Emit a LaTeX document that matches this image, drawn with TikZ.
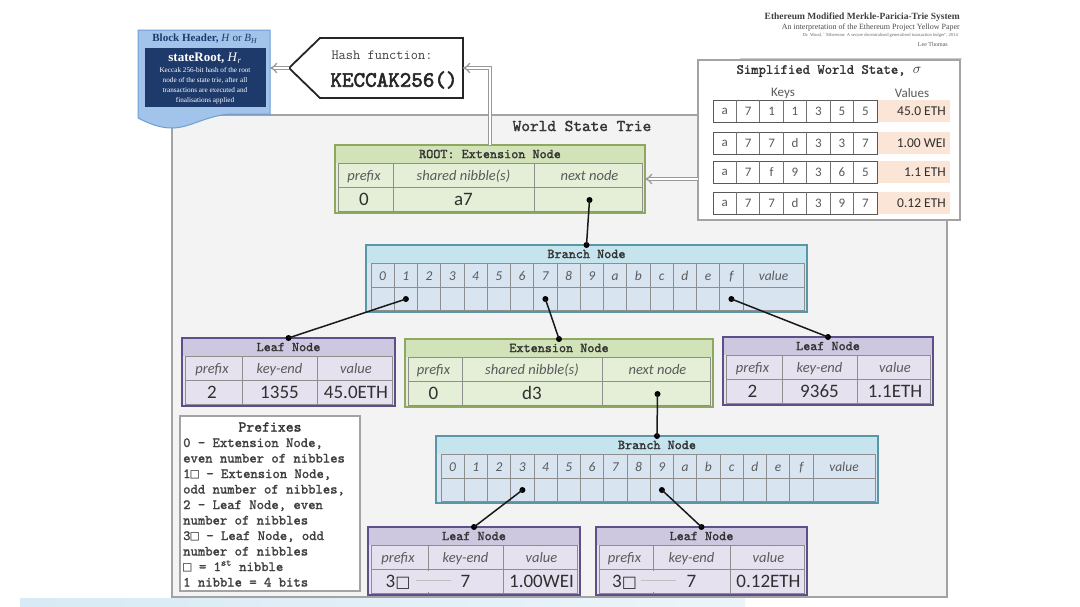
\documentclass[tikz,border=0pt]{standalone}
\usepackage{fontspec}
\setsansfont{Carlito}
\newfontfamily\tms{Liberation Serif}
\newfontfamily\djv{DejaVu Sans}
\newfontfamily\djvm{DejaVu Sans Mono}
\newfontfamily\tmb{lmmono10-regular.otf}[FakeBold=1.6]
\newfontfamily\tmbb{lmmono10-regular.otf}[FakeBold=2.6]
\usetikzlibrary{arrows.meta}
\definecolor{gbody}{HTML}{E5EFD7}
\definecolor{gtitle}{HTML}{D2E3B9}
\definecolor{gborder}{HTML}{8FA860}
\definecolor{pbody}{HTML}{E5E1EF}
\definecolor{ptitle}{HTML}{CEC7E0}
\definecolor{pborder}{HTML}{5E4F88}
\definecolor{bbody}{HTML}{D9E4F1}
\definecolor{btitle}{HTML}{C5E4EE}
\definecolor{bborder}{HTML}{5B96A7}
\definecolor{gridc}{HTML}{8E8E8E}
\definecolor{framefill}{HTML}{F3F3F3}
\definecolor{framec}{HTML}{A3A3A3}
\definecolor{bhfill}{HTML}{A2C3EA}
\definecolor{bhborder}{HTML}{6E9ED6}
\definecolor{navy}{HTML}{1D3A6B}
\definecolor{peach}{HTML}{FBE5D6}
\definecolor{txtgray}{HTML}{5A5A5A}
\definecolor{txtdark}{HTML}{303030}
\definecolor{band}{HTML}{D8EAF5}
\newcommand\wsq{{\djv\fontsize{16}{16}\selectfont □}}
\newcommand\wsqm{{\djvm □}}
% table node: name, x1, top, x2, c1, c2, kind, title
\newcommand\TNode[8]{%
  \node[#7body, anchor=north west, inner sep=0pt, outer sep=0pt, minimum width={(#4-#2)*1pt}, minimum height=68pt] (#1) at (#2,#3) {};
  \fill[#7title] (#2,#3) rectangle (#4,#3+18);
  \draw[grid] (#2+3,#3+18) rectangle (#4-3,#3+66);
  \draw[grid] (#2+3,#3+42) -- (#4-3,#3+42);
  \draw[grid] (#5,#3+18) -- (#5,#3+66);
  \draw[grid] (#6,#3+18) -- (#6,#3+66);
  \draw[#7edge] (#1.north west) rectangle (#1.south east);
  \node[ttl] (#1-t) at ({(#2+#4)/2},#3+9) {#8};
  \pgfmathsetmacro{\xa}{(#2+#5)/2}%
  \pgfmathsetmacro{\xb}{(#5+#6)/2}%
  \pgfmathsetmacro{\xc}{(#6+#4)/2}%
  \pgfmathsetmacro{\ty}{#3}%
}
\newcommand\TTxt[7]{%
  \node[lbl] (#1-la) at (\xa,\ty+35) {#2};
  \node[lbl] (#1-lb) at (\xb,\ty+35) {#3};
  \node[lbl] (#1-lc) at (\xc,\ty+35) {#4};
  \node[val] (#1-va) at (\xa,\ty+60.5) {#5};
  \node[val] (#1-vb) at (\xb,\ty+60.5) {#6};
  \node[val] (#1-vc) at (\xc,\ty+60.5) {#7};
}
% branch node: name, x1, top, x2
\newcommand\BNode[4]{%
  \node[fill=bbody, anchor=north west, inner sep=0pt, outer sep=0pt, minimum width={(#4-#2)*1pt}, minimum height=67pt] (#1) at (#2,#3) {};
  \fill[btitle] (#2,#3) rectangle (#4,#3+18);
  \draw[grid] (#2+5,#3+18) rectangle (#4-3,#3+65);
  \draw[grid] (#2+5,#3+42) -- (#4-3,#3+42);
  \foreach \i/\l in {0/0,1/1,2/2,3/3,4/4,5/5,6/6,7/7,8/8,9/9,10/a,11/b,12/c,13/d,14/e,15/f} {
    \draw[grid] ({#2+5+(\i+1)*23.25},#3+18) -- ++(0,47);
    \node[blbl] (#1-l\i) at ({#2+5+(\i+0.5)*23.25},#3+35) {\l};
  }
  \node[blbl] (#1-lv) at ({(#2+5+16*23.25+#4-3)/2},#3+35) {value};
  \draw[draw=bborder, line width=2pt] (#1.north west) rectangle (#1.south east);
  \node[ttl] (#1-t) at ({(#2+#4)/2},#3+9) {Branch Node};
}
\begin{document}
\begin{tikzpicture}[x=1pt,y=-1pt,
  grid/.style={draw=gridc, line width=0.8pt},
  ttl/.style={font=\tmb\fontsize{13.5}{13.5}\selectfont, text=black!80, inner sep=0pt},
  lbl/.style={font=\sffamily\itshape\fontsize{14.5}{14.5}\selectfont, text=txtgray, inner sep=0pt, anchor=base},
  val/.style={font=\sffamily\fontsize{19}{19}\selectfont, text=txtdark, inner sep=0pt, anchor=base},
  blbl/.style={font=\sffamily\itshape\fontsize{13.5}{13.5}\selectfont, text=txtgray, inner sep=0pt, anchor=base},
  gnbody/.style={fill=gbody}, gntitle/.style={fill=gtitle}, gnedge/.style={draw=gborder, line width=2pt},
  pubody/.style={fill=pbody}, putitle/.style={fill=ptitle}, puedge/.style={draw=pborder, line width=2pt},
  dot/.style={circle, fill=black, inner sep=0pt, minimum size=6pt},
  conn/.style={line width=1.5pt, draw=black!90},
  dbl/.style={draw=black!40, double=white, double distance=2.2pt, line width=1.3pt, -{Implies}},
  ptxt/.style={font=\tmb\fontsize{14}{14}\selectfont, text=black!75, inner sep=0pt, anchor=base west},
  keytxt/.style={font=\sffamily\fontsize{13}{13}\selectfont, text=txtgray, inner sep=0pt},
  wsval/.style={font=\sffamily\fontsize{13.5}{13.5}\selectfont, text=txtdark, inner sep=0pt},
  boxw/.style={draw=framec, fill=white, line width=1.5pt, anchor=north west, inner sep=0pt, outer sep=0pt}
]
\useasboundingbox (0,0) rectangle (1080,606);
\fill[white] (0,0) rectangle (1080,606);
\shade[left color=band, right color=band!50] (20,598) rectangle (745,606);

% heading top right
\node[anchor=base east, font=\tms\bfseries\fontsize{9.5}{9.5}\selectfont, text=black!75, inner sep=0pt] (t1) at (960,19) {Ethereum Modified Merkle-Paricia-Trie System};
\node[anchor=base east, font=\tms\fontsize{8}{8}\selectfont, text=black!70, inner sep=0pt] (t2) at (960,29) {An interpretation of the Ethereum Project Yellow Paper};
\node[anchor=base east, font=\tms\fontsize{4.6}{4.6}\selectfont, text=black!60, inner sep=0pt] (t3) at (958,36) {Dr. Wood, ``Ethereum: A secure decentralised generalised transaction ledger'', 2014};
\node[anchor=base east, font=\tms\fontsize{6}{6}\selectfont, text=black!65, inner sep=0pt] (t4) at (948,46) {Lee Thomas};
\draw[black!20, line width=0.8pt] (740,58) -- (962,58);

% world state trie frame
\node[draw=framec, fill=framefill, line width=2pt, anchor=north west, inner sep=0pt, outer sep=0pt, minimum width=775pt, minimum height=482pt] (wst) at (172,115) {};
\node[font=\tmb\fontsize{16.5}{16.5}\selectfont, text=black!80, inner sep=0pt] (wsttitle) at (582,126) {World State Trie};

% block header
\draw[fill=bhfill, draw=bhborder, line width=1pt] (138,30) -- (270,30) -- (270,114) -- (230,114) .. controls (205,116) and (190,128) .. (172,128) .. controls (160,128) and (150,124) .. (138,118) -- cycle;
\fill[navy] (145,48) rectangle (266,107);
\coordinate (bhE) at (270,68);
\node[font=\tms\fontsize{11}{11}\selectfont, text=navy, inner sep=0pt] (bhtitle) at (205,39) {\textbf{Block Header,} \textit{H} or \textit{B}\textsubscript{\textit{H}}};
\node[font=\tms\fontsize{13}{13}\selectfont, text=white, inner sep=0pt] (bhroot) at (205,58) {\textbf{stateRoot,} \textit{H}\textsubscript{\textit{r}}};
\node[font=\tms\fontsize{7.2}{10}\selectfont, text=white, align=center, inner sep=0pt, anchor=north] (bhdesc) at (205,67) {Keccak 256-bit hash of the root\\node of the state trie, after all\\transactions are executed and\\finalisations applied};

% hash function
\draw[fill=white, draw=black!85, line width=1.8pt] (289,68) -- (320,38) -- (463,38) -- (463,98) -- (320,98) -- cycle;
\coordinate (hashW) at (289,68);
\coordinate (hashE) at (463,68);
\node[font=\ttfamily\fontsize{14}{14}\selectfont, text=black!75, inner sep=0pt] (hashlbl) at (382,55) {Hash function:};
\node[font=\tmbb\fontsize{22}{22}\selectfont, text=black!85, inner sep=0pt] (hashfn) at (394,80) {KECCAK256()};
\draw[dbl] (hashW) -- (bhE);

% simplified world state
\node[boxw, minimum width=262pt, minimum height=160pt] (ws) at (698,60) {};
\node[font=\tmb\fontsize{14}{14}\selectfont, text=black!80, inner sep=0pt] (wstitle) at (829,71) {Simplified World State, $\sigma$};
\node[keytxt] (keyshead) at (783,93) {Keys};
\node[keytxt] (valshead) at (912,93) {Values};
\foreach \r/\yt/\ks/\v in {1/100/{a,7,1,1,3,5,5}/45.0 ETH, 2/132/{a,7,7,d,3,3,7}/1.00 WEI, 3/161/{a,7,f,9,3,6,5}/1.1 ETH, 4/192/{a,7,7,d,3,9,7}/0.12 ETH} {
  \node[fill=peach, anchor=north west, inner sep=0pt, minimum width=73pt, minimum height=22pt] (vbox\r) at (877,\yt) {};
  \node[wsval, anchor=east] (vt\r) at (946,\yt+11) {\v};
  \node[draw=black!65, fill=white, line width=1.1pt, anchor=north west, inner sep=0pt, minimum width=164pt, minimum height=22pt] (krow\r) at (713,\yt) {};
  \foreach \k [count=\j] in \ks {
    \node[keytxt] (k\r-\j) at ({713+(\j-0.5)*23.43},\yt+11) {\k};
  }
  \foreach \j in {1,...,6} {
    \draw[draw=black!55, line width=0.8pt] ({713+\j*23.43},\yt) -- ++(0,22);
  }
}

% root extension node
\TNode{root}{335}{145}{645}{393}{534}{gn}{ROOT: Extension Node}
\TTxt{root}{prefix}{shared nibble(s)}{next node}{0}{a7}{}
\node[dot] (rootd) at (\xc,\ty+55) {};
\draw[dbl] (root.north) |- (hashE);
\draw[dbl] (ws.west |- root.east) -- (root.east);

% branch node 1
\BNode{bA}{366}{245}{807}
\node[dot] (bAtop) at (bA.north) {};
\node[dot] (bAd1) at (405.9,299) {};
\node[dot] (bAd7) at (545.4,299) {};
\node[dot] (bAdf) at (731.4,299) {};

% leaf 1
\TNode{leafA}{182}{338}{395}{242}{317}{pu}{Leaf Node}
\TTxt{leafA}{prefix}{key-end}{value}{2}{1355}{45.0ETH}
\node[dot] (leafAtop) at (leafA.north) {};

% extension node
\TNode{extB}{405}{339}{713}{462}{602}{gn}{Extension Node}
\TTxt{extB}{prefix}{shared nibble(s)}{next node}{0}{d3}{}
\node[dot] (extBd) at (\xc,\ty+55) {};
\node[dot] (extBtop) at (extB.north) {};

% leaf 2
\TNode{leafC}{723}{337}{933}{782}{857}{pu}{Leaf Node}
\TTxt{leafC}{prefix}{key-end}{value}{2}{9365}{1.1ETH}
\node[dot] (leafCtop) at (leafC.north) {};

% branch node 2
\BNode{bB}{436}{436}{878}
\node[dot] (bBtop) at (bB.north) {};
\node[dot] (bBd3) at (522.4,490) {};
\node[dot] (bBd9) at (661.9,490) {};

% leaf 3
\TNode{leafD}{368}{527}{580}{428}{503}{pu}{Leaf Node}
\draw[draw=pbody, line width=1.6pt] (428,571) -- (428,592);
\draw[black!25, line width=0.8pt] (416,580) -- (451,580);
\TTxt{leafD}{prefix}{key-end}{value}{3\wsq}{7}{1.00WEI}
\node[dot] (leafDtop) at (leafD.north) {};

% leaf 4
\TNode{leafE}{596}{527}{807}{653}{730}{pu}{Leaf Node}
\draw[draw=pbody, line width=1.6pt] (653,571) -- (653,592);
\draw[black!25, line width=0.8pt] (641,580) -- (676,580);
\TTxt{leafE}{prefix}{key-end}{value}{3\wsq}{7}{0.12ETH}
\node[dot] (leafEtop) at (leafE.north) {};

% connectors
\draw[conn] (rootd.center) -- (bAtop.center);
\draw[conn] (bAd1.center) -- (leafAtop.center);
\draw[conn] (bAd7.center) -- (extBtop.center);
\draw[conn] (bAdf.center) -- (leafCtop.center);
\draw[conn] (extBd.center) -- (bBtop.center);
\draw[conn] (bBd3.center) -- (leafDtop.center);
\draw[conn] (bBd9.center) -- (leafEtop.center);

% prefixes legend
\node[boxw, minimum width=180pt, minimum height=175pt] (pbox) at (180,416) {};
\node[font=\tmb\fontsize{15}{15}\selectfont, text=black!80, inner sep=0pt] (ptitle) at (270,427) {Prefixes};
\foreach \t [count=\k] in {{0 - Extension Node,}, {even number of nibbles}, {1\wsqm{} - Extension Node,}, {odd number of nibbles,}, {2 - Leaf Node, even}, {number of nibbles}, {3\wsqm{} - Leaf Node, odd}, {number of nibbles}, {\wsqm{} = 1\textsuperscript{st} nibble}, {1 nibble = 4 bits}} {
  \node[ptxt] (pl\k) at (183,{447+15.5*(\k-1)}) {\t};
}
\end{tikzpicture}
\end{document}
